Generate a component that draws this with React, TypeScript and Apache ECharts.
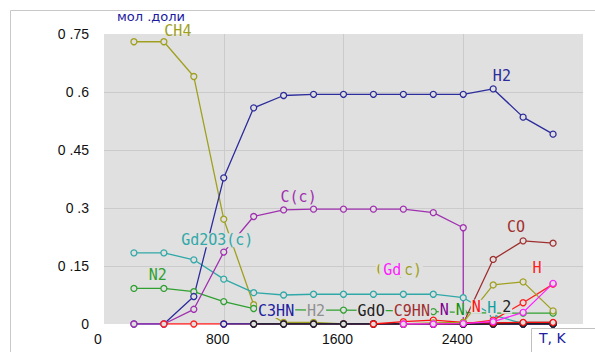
import React, { useEffect, useRef } from "react";
import * as echarts from "echarts";

// Temperatures, K
const T = [200, 400, 600, 800, 1000, 1200, 1400, 1600, 1800, 2000, 2200, 2400, 2600, 2800, 3000];
// C(c) has a vertical drop at 2400 K
const T_C = [200, 400, 600, 800, 1000, 1200, 1400, 1600, 1800, 2000, 2200, 2400, 2400, 2600, 2800, 3000];

// Mole fractions (null = no point)
const CH4 = [0.73, 0.73, 0.64, 0.271, 0.05, 0.004, 0.004, 0, 0, 0, 0, 0, 0, 0, 0];
const H2 = [0, 0, 0.071, 0.378, 0.559, 0.591, 0.594, 0.594, 0.594, 0.594, 0.594, 0.594, 0.608, 0.535, 0.491];
const C_c = [0, 0, 0.038, 0.186, 0.278, 0.295, 0.297, 0.297, 0.297, 0.297, 0.288, 0.249, 0, 0, 0, 0];
const Gd2O3_c = [0.184, 0.184, 0.166, 0.116, 0.081, 0.075, 0.077, 0.077, 0.077, 0.077, 0.077, 0.068, 0.023, 0.001, 0.001];
const N2 = [0.092, 0.092, 0.0835, 0.058, 0.04, 0.037, 0.036, 0.036, 0.035, 0.034, 0.032, 0.03, 0.028, 0.028, 0.028];
const H = [null, 0, 0, 0, 0, 0, 0, 0, 0, 0, 0, 0, 0.01, 0.055, 0.103];
const C3HN = [null, null, null, 0, 0, 0, 0, 0, 0, 0, 0, 0, 0, 0, 0];
const GdO = [null, null, null, null, 0, 0, 0, 0, 0, 0, 0, 0, 0, 0, 0];
const H2_minor = [null, null, null, null, 0, 0, 0, 0, 0, 0, 0, 0, 0, 0, 0];
const C9HN = [null, null, null, null, null, null, null, 0, 0, 0, 0, 0, 0, 0, 0];
const N_purple = [null, null, null, null, null, null, null, null, null, 0, 0, 0, 0, 0, 0];
const N_green = [null, null, null, null, null, null, null, null, null, 0, 0, 0, 0, 0, 0];
const H_teal = [null, null, null, null, null, null, null, null, null, null, 0, 0, 0, 0, 0];
const X2 = [null, null, null, null, null, null, null, null, null, null, null, 0, 0.002, 0.003, 0.003];
const N_red = [null, null, null, null, null, null, null, null, 0, 0.006, 0.01, 0.004, 0.003, 0.004, 0.004];
const CO = [null, null, null, null, null, null, null, null, null, null, 0, 0.002, 0.167, 0.215, 0.209];
const Gd_c = [null, null, null, null, null, null, null, null, null, 0, 0.003, 0.004, 0.101, 0.109, 0.034];
const Gd = [null, null, null, null, null, null, null, null, null, 0, 0, 0.001, 0.006, 0.03, 0.105];

// Axis ticks
const X_MIN = 0, X_MAX = 3200, X_STEP = 800;
const Y_MIN = 0, Y_MAX = 0.75, Y_STEP = 0.15;

type Spec = {
  text: string;
  temps: number[];
  values: (number | null)[];
  color: string;
  labelAt: number;
  offset: [number, number];
  labelBg?: boolean;
  pad?: number[];
  width?: number;
};

// bottom -> top drawing order
const specs: Spec[] = [
  { text: "H2", temps: T, values: H2_minor, color: "#909090", labelAt: 1400, offset: [2.5, -13] },
  { text: "C9HN", temps: T, values: C9HN, color: "#a03030", labelAt: 2000, offset: [8.5, -13] },
  { text: "N", temps: T, values: N_purple, color: "#800090", labelAt: 2200, offset: [11, -14] },
  { text: "N", temps: T, values: N_green, color: "#109010", labelAt: 2400, offset: [-3, -14] },
  { text: "H", temps: T, values: H_teal, color: "#10a0a0", labelAt: 2600, offset: [-1.5, -16] },
  { text: "CH4", temps: T, values: CH4, color: "#a0a020", labelAt: 400, offset: [14, -11], labelBg: false, pad: [0, 0, 0, 0] },
  { text: "N2", temps: T, values: N2, color: "#30a030", labelAt: 400, offset: [-6, -13] },
  { text: "Gd2O3(c)", temps: T, values: Gd2O3_c, color: "#30a8a8", labelAt: 800, offset: [-6.5, -39] },
  { text: "H2", temps: T, values: H2, color: "#2c2c9c", labelAt: 2600, offset: [8.7, -12.9] },
  { text: "C(c)", temps: T_C, values: C_c, color: "#a030b0", labelAt: 1200, offset: [15, -13] },
  { text: "H", temps: T, values: H, color: "#ff2020", labelAt: 2800, offset: [14, -34.7] },
  { text: "C3HN", temps: T, values: C3HN, color: "#2020a0", labelAt: 1200, offset: [-7.5, -13] },
  { text: "GdO", temps: T, values: GdO, color: "#202020", labelAt: 1800, offset: [-2.3, -13] },
  { text: "2", temps: T, values: X2, color: "#202020", labelAt: 2600, offset: [13.5, -16.5], width: 2 },
  { text: "N", temps: T, values: N_red, color: "#ff1010", labelAt: 2400, offset: [13, -15.8] },
  { text: "CO", temps: T, values: CO, color: "#a03030", labelAt: 2800, offset: [-7, -13.4] },
  { text: "Gd(c)", temps: T, values: Gd_c, color: "#a0a020", labelAt: 2000, offset: [-4, -54] },
  { text: "Gd", temps: T, values: Gd, color: "#ff20ff", labelAt: 2000, offset: [-11, -54], pad: [1, 4, 0, 4] },
];

const PLOT_BG = "#e0e0e0";
const LABEL_FONT = "'DejaVu Sans Mono', monospace";

function buildSeries(s: Spec, idx: number) {
  let labelled = false;
  const data: any[] = [];
  s.temps.forEach((t, i) => {
    const v = s.values[i];
    if (v === null || v === undefined) return;
    if (!labelled && t === s.labelAt) {
      labelled = true;
      data.push({
        value: [t, v],
        label: {
          show: true,
          formatter: s.text,
          position: "inside",
          offset: s.offset,
          color: s.color,
          fontFamily: LABEL_FONT,
          fontSize: 15,
          lineHeight: 13,
          backgroundColor: s.labelBg === false ? "transparent" : PLOT_BG,
          padding: s.pad ?? [1, 1, 0, 1],
        },
      });
    } else {
      data.push([t, v]);
    }
  });
  return {
    type: "line",
    name: s.text + "_" + idx,
    data,
    symbol: "circle",
    symbolSize: 6,
    showSymbol: true,
    lineStyle: { color: s.color, width: s.width ?? 1.3 },
    itemStyle: { color: PLOT_BG, borderColor: s.color, borderWidth: 1.3 },
    label: { show: false },
    emphasis: { disabled: true },
    z: 2,
  };
}

function fmtY(v: number) {
  if (v === 0) return "0";
  const s = String(parseFloat(v.toFixed(2)));
  return s.replace(".", " .");
}

export default function App() {
  const ref = useRef<HTMLDivElement>(null);
  useEffect(() => {
    document.body.style.margin = "0";
    if (!ref.current) return;
    const chart = echarts.init(ref.current, undefined, { renderer: "svg" });
    chart.setOption({
      animation: false,
      backgroundColor: "#ffffff",
      grid: {
        left: 104,
        right: 12,
        top: 34,
        bottom: 28,
        show: true,
        backgroundColor: PLOT_BG,
        borderWidth: 0,
      },
      xAxis: {
        type: "value",
        min: X_MIN,
        max: X_MAX,
        interval: X_STEP,
        axisLine: { show: false },
        axisTick: { show: false },
        splitLine: { show: true, showMinLine: false, showMaxLine: false, lineStyle: { color: "#cbcbcb", width: 1 } },
        axisLabel: {
          showMaxLabel: false,
          color: "#111",
          fontFamily: "'Liberation Sans', Arial, sans-serif",
          fontSize: 14,
          margin: 8,
          padding: [0, 12, 0, 0],
          formatter: (v: number) => String(v),
        },
      },
      yAxis: {
        type: "value",
        min: Y_MIN,
        max: Y_MAX,
        interval: Y_STEP,
        name: "мол .доли",
        nameLocation: "end",
        nameGap: 18,
        nameTextStyle: {
          color: "#1a1aa0",
          fontFamily: "'DejaVu Sans', sans-serif",
          fontSize: 13,
          lineHeight: 12,
          align: "left",
          verticalAlign: "middle",
          padding: [0, 0, 0, 13],
        },
        axisLine: { show: false },
        axisTick: { show: false },
        splitLine: { show: true, showMinLine: false, showMaxLine: false, lineStyle: { color: "#cbcbcb", width: 1 } },
        axisLabel: {
          color: "#111",
          fontFamily: "'Liberation Sans', Arial, sans-serif",
          fontSize: 14,
          margin: 15,
          padding: [0, 0, 9, 0],
          formatter: fmtY,
        },
      },
      graphic: [
        {
          type: "rect",
          shape: { x: 10.5, y: 10.5, width: 620, height: 400 },
          style: { fill: "none", stroke: "#c8c8c8", lineWidth: 1 },
          silent: true,
          z: 0,
        },
        {
          type: "group",
          z: 100,
          children: [
            {
              type: "rect",
              shape: { x: 531.5, y: 328.5, width: 80, height: 30 },
              style: { fill: "#ffffff", stroke: "#c0c0c0", lineWidth: 1 },
            },
            {
              type: "text",
              x: 539,
              y: 338,
              style: {
                text: "T, K",
                fill: "#2020a0",
                font: "14px 'DejaVu Sans', sans-serif",
                verticalAlign: "middle",
              },
            },
          ],
        },
      ],
      series: specs.map(buildSeries),
    });
    return () => chart.dispose();
  }, []);
  return (
    <div
      ref={ref}
      style={{ width: 595, height: 352, position: "absolute", left: 0, top: 0 }}
    />
  );
}
